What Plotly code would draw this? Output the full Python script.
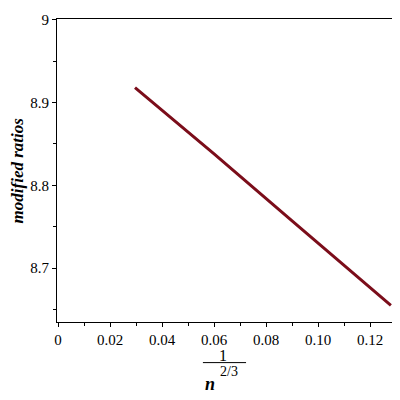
import plotly.graph_objects as go

# values
x_vals = [0.0296, 0.06, 0.09, 0.128]
y_vals = [8.918, 8.838, 8.757, 8.655]

x_ticks = [0, 0.02, 0.04, 0.06, 0.08, 0.10, 0.12]
x_ticktext = ["0", "0.02", "0.04", "0.06", "0.08", "0.10", "0.12"]
y_ticks = [8.7, 8.8, 8.9, 9.0]
y_ticktext = ["8.7", "8.8", "8.9", "9"]

LINE_COLOR = "#7b0d1a"
SERIF = "Liberation Serif, Times New Roman, serif"

fig = go.Figure()
fig.add_trace(go.Scatter(
    x=x_vals, y=y_vals, mode="lines",
    line=dict(color=LINE_COLOR, width=3),
    showlegend=False,
))

axis_common = dict(
    showline=True, linecolor="black", linewidth=1.2, mirror=True,
    showgrid=False, zeroline=False,
    ticks="outside", ticklen=4, tickwidth=1, tickcolor="black",
    tickfont=dict(family=SERIF, size=15, color="black"),
    ticklabeloverflow="allow",
)

# page body has an 8px margin, so the figure is 392 px and shifted accordingly
fig.update_layout(
    width=392, height=392,
    margin=dict(l=49, r=6, t=4, b=78),
    paper_bgcolor="white", plot_bgcolor="white",
    xaxis=dict(
        range=[-0.0004, 0.1292], tickvals=x_ticks, ticktext=x_ticktext,
        minor=dict(ticks="outside", dtick=0.01, tick0=0, ticklen=3, tickcolor="black"),
        **axis_common,
    ),
    yaxis=dict(
        range=[8.635, 9.0008], tickvals=y_ticks, ticktext=y_ticktext,
        minor=dict(ticks="outside", dtick=0.05, tick0=8.65, ticklen=3, tickcolor="black"),
        **axis_common,
    ),
)

def label(text, x, y, size, angle=0):
    fig.add_annotation(
        text=text, xref="paper", yref="paper", x=x, y=y,
        xanchor="center", yanchor="middle", textangle=angle, showarrow=False,
        font=dict(family=SERIF, size=size, color="black"),
    )

# y title
label("<b><i>modified ratios</i></b>", -0.116, 0.5, 17, angle=-90)

# x title: 1 / n^(2/3) as a stacked fraction
label("1", 0.493, -0.109, 16)
fig.add_shape(
    type="line", xref="paper", yref="paper",
    x0=0.433, x1=0.561, y0=-0.134, y1=-0.134,
    line=dict(color="black", width=1),
)
label("<b><i>n</i></b>", 0.454, -0.205, 18)
label("2/3", 0.51, -0.165, 14)

fig.write_html("out.html")
